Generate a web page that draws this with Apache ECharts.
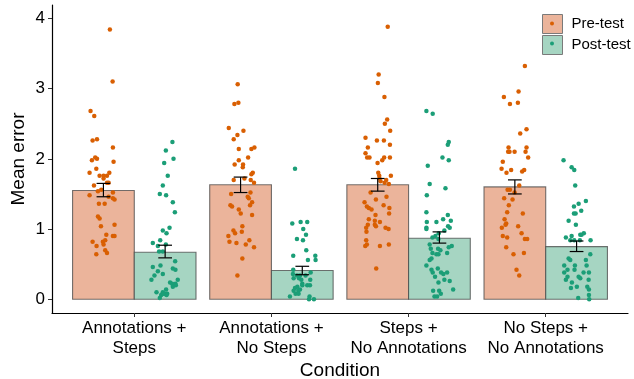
<!DOCTYPE html>
<html>
<head>
<meta charset="utf-8">
<script src="https://cdn.jsdelivr.net/npm/echarts@6/dist/echarts.min.js"></script>
<style>
  html, body { margin: 0; padding: 0; background: #fff; }
  #chart { width: 634px; height: 379px; }
</style>
</head>
<body>
<div id="chart"></div>
<script>
var categories = ['Annotations +\nSteps', 'Annotations +\nNo Steps', 'Steps +\nNo Annotations', 'No Steps +\nNo Annotations'];

// bar heights (means) and error bar ends
var preMean = [1.55, 1.63, 1.63, 1.60];
var preLow = [1.46, 1.52, 1.54, 1.50];
var preHigh = [1.65, 1.74, 1.72, 1.70];
var postMean = [0.67, 0.41, 0.87, 0.75];
var postLow = [0.59, 0.35, 0.80, 0.68];
var postHigh = [0.77, 0.47, 0.96, 0.83];

// jittered points: [x jitter, value]
var preG1 = [[0.047,3.84],[0.067,3.10],[-0.094,2.68],[-0.067,2.61],[-0.079,2.26],[-0.047,2.28],[0.069,2.16],[-0.060,2.02],[-0.047,2.00],[-0.084,1.98],[0.074,1.96],[-0.052,1.86],[-0.101,1.80],[0.043,1.80],[-0.028,1.76],[0.001,1.76],[0.026,1.76],[0.001,1.72],[-0.069,1.62],[0.026,1.66],[0.038,1.66],[-0.040,1.54],[-0.016,1.56],[0.069,1.52],[-0.101,1.48],[0.038,1.46],[0.069,1.44],[0.081,1.42],[-0.033,1.36],[0.009,1.36],[-0.040,1.18],[-0.028,1.15],[0.081,1.06],[-0.018,1.04],[0.021,0.92],[0.069,0.90],[0.081,0.90],[-0.079,0.82],[-0.004,0.82],[0.013,0.84],[0.001,0.78],[-0.050,0.76],[0.013,0.70],[0.026,0.66],[-0.052,0.64]];
var postG1 = [[0.053,2.24],[0.005,2.12],[0.061,2.00],[-0.007,1.94],[0.019,1.76],[-0.017,1.62],[-0.039,1.50],[0.007,1.48],[0.056,1.38],[0.071,1.24],[0.032,1.02],[-0.017,0.98],[0.010,0.94],[-0.090,0.80],[-0.036,0.84],[0.005,0.78],[-0.053,0.76],[-0.044,0.68],[-0.017,0.68],[0.073,0.54],[-0.034,0.48],[-0.090,0.46],[0.056,0.44],[0.075,0.42],[-0.053,0.40],[-0.017,0.36],[-0.078,0.34],[-0.100,0.28],[0.092,0.28],[0.036,0.24],[0.051,0.22],[0.075,0.22],[0.078,0.20],[0.056,0.18],[0.007,0.14],[-0.063,0.10],[-0.017,0.10],[0,0.08],[0.015,0.08],[-0.029,0.06],[0.010,0.06],[-0.012,0.08],[-0.039,0.02]];
var preG2 = [[-0.021,3.06],[-0.045,2.78],[-0.016,2.80],[-0.086,2.44],[0.021,2.40],[-0.023,2.34],[-0.050,2.28],[-0.013,2.14],[0.079,2.14],[0.101,2.16],[0.055,2.02],[-0.013,1.98],[-0.043,1.92],[0.018,1.92],[0.016,1.88],[0.089,1.80],[0.079,1.78],[-0.050,1.70],[0.028,1.72],[0.074,1.70],[0.098,1.66],[-0.069,1.50],[0.072,1.52],[0.052,1.46],[0.060,1.44],[0.084,1.38],[-0.074,1.34],[-0.062,1.32],[0.069,1.34],[-0.013,1.28],[0.001,1.22],[0.084,1.20],[0.013,1.04],[-0.052,0.98],[-0.040,0.94],[0.009,0.96],[-0.089,0.90],[-0.081,0.82],[0.064,0.84],[-0.030,0.80],[0.038,0.78],[0.098,0.74],[0.013,0.58],[-0.023,0.34]];
var postG2 = [[-0.053,1.86],[-0.073,1.08],[-0.012,1.10],[0.036,1.10],[0.007,1.00],[0.027,0.92],[-0.039,0.86],[0.005,0.84],[0.029,0.70],[-0.066,0.62],[0.095,0.62],[0.041,0.56],[0.097,0.56],[-0.066,0.42],[0.061,0.38],[-0.068,0.36],[-0.039,0.34],[-0.017,0.34],[0.024,0.34],[-0.063,0.30],[-0.024,0.30],[-0.007,0.28],[0.058,0.28],[0,0.22],[0.036,0.20],[0.056,0.20],[-0.036,0.18],[-0.053,0.16],[-0.017,0.14],[-0.063,0.12],[-0.029,0.12],[-0.049,0.08],[-0.090,0.04],[0.053,0.04],[0.049,0.00],[0.085,0.00],[0,0.20],[-0.027,0.08]];
var preG3 = [[0.073,3.88],[0.007,3.20],[0.001,3.08],[0.049,2.88],[0.069,2.56],[0.052,2.50],[0.091,2.40],[-0.089,2.30],[-0.006,2.26],[0.045,2.26],[0.089,2.20],[-0.072,2.16],[-0.089,2.08],[-0.077,2.02],[-0.060,2.02],[0.047,2.02],[0.089,2.02],[0.033,1.98],[-0.001,1.94],[0.004,1.80],[0.011,1.76],[0.096,1.76],[0.021,1.68],[0.062,1.70],[0.050,1.66],[0.081,1.64],[-0.052,1.52],[0.064,1.46],[-0.013,1.42],[-0.096,1.38],[0.043,1.34],[-0.079,1.32],[-0.065,1.30],[-0.045,1.28],[0.085,1.30],[0.083,1.22],[-0.016,1.20],[-0.065,1.14],[-0.021,1.12],[0.016,1.10],[-0.072,1.06],[-0.021,1.06],[-0.084,1.02],[0.057,1.02],[0.079,1.00],[-0.082,0.96],[-0.084,0.84],[-0.079,0.78],[-0.091,0.76],[0.016,0.76],[0.081,0.78],[-0.011,0.44],[0.013,1.72],[-0.013,1.04]];
var postG3 = [[-0.095,2.68],[-0.049,2.64],[0.068,2.24],[0.061,2.20],[0.022,2.02],[0.068,1.98],[-0.085,1.90],[-0.071,1.64],[0.044,1.58],[-0.092,1.48],[-0.095,1.24],[0.061,1.20],[-0.092,1.10],[-0.022,1.10],[0.027,1.14],[0.083,1.12],[-0.095,1.02],[-0.095,1.00],[0.063,1.04],[0.075,1.02],[0.036,0.98],[-0.005,0.94],[-0.051,0.88],[-0.007,0.86],[-0.029,0.90],[-0.071,0.78],[0.090,0.76],[0.068,0.74],[-0.063,0.72],[-0.010,0.72],[0.007,0.70],[-0.051,0.66],[-0.022,0.64],[0.056,0.66],[-0.007,0.64],[-0.058,0.58],[-0.071,0.56],[-0.095,0.48],[-0.012,0.44],[-0.058,0.42],[-0.049,0.38],[0.012,0.38],[0.029,0.36],[0.056,0.38],[-0.032,0.32],[0.036,0.28],[0.075,0.26],[-0.007,0.24],[0.100,0.14],[-0.046,0.12],[-0.002,0.12],[0.010,0.08],[-0.036,0.04],[-0.017,0.04]];
var preG4 = [[0.073,3.32],[0.027,2.96],[-0.080,2.88],[0.022,2.80],[-0.036,2.78],[0.085,2.42],[0.039,2.36],[-0.046,2.16],[0.085,2.16],[-0.049,2.10],[-0.039,2.10],[-0.002,2.10],[0.078,2.10],[0.097,2.02],[-0.088,1.96],[-0.097,1.86],[-0.027,1.84],[-0.061,1.80],[0.053,1.82],[0.068,1.84],[0.032,1.62],[-0.053,1.56],[-0.036,1.56],[-0.002,1.52],[-0.078,1.44],[-0.017,1.42],[-0.044,1.34],[-0.056,1.24],[0.058,1.22],[-0.075,1.14],[-0.063,1.08],[-0.068,1.06],[0.024,1.04],[-0.095,1.02],[0.049,0.94],[-0.088,0.90],[-0.056,0.88],[0.073,0.86],[0.090,0.86],[-0.063,0.74],[0.066,0.66],[-0.010,0.64],[0.012,0.42],[0.032,0.34]];
var postG4 = [[-0.095,1.98],[-0.036,1.88],[-0.017,1.84],[-0.010,1.62],[0.068,1.40],[0.015,1.36],[-0.019,1.32],[0.034,1.26],[-0.019,1.22],[-0.007,1.22],[-0.058,1.12],[-0.005,1.06],[0.036,0.92],[0.053,0.94],[0.027,0.92],[-0.078,0.88],[-0.036,0.90],[-0.046,0.84],[-0.017,0.84],[0.024,0.84],[0.102,0.84],[-0.058,0.58],[-0.046,0.56],[0.068,0.56],[0.100,0.64],[-0.090,0.48],[-0.012,0.48],[-0.066,0.42],[0.073,0.48],[-0.015,0.42],[-0.090,0.38],[0.051,0.38],[0.090,0.38],[0.015,0.32],[0.027,0.30],[-0.066,0.32],[-0.078,0.28],[0.088,0.28],[-0.034,0.24],[0.078,0.18],[0.002,0.18],[-0.041,0.16],[0.090,0.14],[0.090,0.06],[0.012,0.02],[0.092,0.00]];

var prePoints = [preG1, preG2, preG3, preG4];
var postPoints = [postG1, postG2, postG3, postG4];

var PRE_DOT = '#D95F02', POST_DOT = '#1B9E77';
var PRE_FILL = '#EBB49B', POST_FILL = '#A6D5C2';
var FONT = '"Liberation Sans", Arial, sans-serif';
var DODGE = 0.45;

var chart = echarts.init(document.getElementById('chart'));

function barData(means, side) {
  var res = [];
  for (var i = 0; i < means.length; i++) {
    var x0 = i + 1 + (side < 0 ? -DODGE : 0);
    res.push([x0, x0 + DODGE, means[i]]);
  }
  return res;
}

function errData(lows, highs, side) {
  var res = [];
  for (var i = 0; i < lows.length; i++) {
    res.push([i + 1 + side * DODGE / 2, lows[i], highs[i]]);
  }
  return res;
}

function pointData(groups, side) {
  var res = [];
  for (var i = 0; i < groups.length; i++) {
    for (var j = 0; j < groups[i].length; j++) {
      res.push([i + 1 + side * DODGE / 2 + groups[i][j][0], groups[i][j][1]]);
    }
  }
  return res;
}

function barRenderer(fill) {
  return function (params, api) {
    var lo = api.coord([api.value(0), 0]);
    var hi = api.coord([api.value(1), api.value(2)]);
    return {
      type: 'rect',
      shape: { x: lo[0], y: hi[1], width: hi[0] - lo[0], height: lo[1] - hi[1] },
      style: { fill: fill, stroke: 'rgba(70,70,70,0.75)', lineWidth: 1.1 }
    };
  };
}

function renderErr(params, api) {
  var x = api.value(0);
  var a = api.coord([x, api.value(1)]);
  var b = api.coord([x, api.value(2)]);
  var half = api.size([0.1, 0])[0] / 2;
  var st = { stroke: '#000', lineWidth: 1.2 };
  return {
    type: 'group',
    children: [
      { type: 'line', shape: { x1: a[0], y1: a[1], x2: b[0], y2: b[1] }, style: st },
      { type: 'line', shape: { x1: a[0] - half, y1: a[1], x2: a[0] + half, y2: a[1] }, style: st },
      { type: 'line', shape: { x1: b[0] - half, y1: b[1], x2: b[0] + half, y2: b[1] }, style: st }
    ]
  };
}

var option = {
  animation: false,
  backgroundColor: '#fff',
  grid: { left: 52, right: 6, top: 5, bottom: 66, containLabel: false, outerBoundsMode: 'none' },
  legend: [
    {
      orient: 'vertical', left: 542, top: 14, padding: 0,
      icon: 'rect', itemWidth: 20, itemHeight: 19, itemGap: 1,
      selectedMode: false,
      textStyle: { fontSize: 15, color: '#000', fontFamily: FONT, padding: [0, 0, 0, 4] },
      data: [
        { name: 'Pre-test', itemStyle: { color: PRE_FILL, borderColor: '#7a7a7a', borderWidth: 1 } },
        { name: 'Post-test', itemStyle: { color: POST_FILL, borderColor: '#7a7a7a', borderWidth: 1 } }
      ]
    },
    {
      orient: 'vertical', left: 550, top: 21.5, padding: 0,
      icon: 'circle', itemWidth: 4, itemHeight: 4, itemGap: 16,
      selectedMode: false,
      formatter: function () { return ''; },
      textStyle: { fontSize: 1, lineHeight: 1 },
      data: [
        { name: 'Pre-test', itemStyle: { color: PRE_DOT, borderWidth: 0 } },
        { name: 'Post-test', itemStyle: { color: POST_DOT, borderWidth: 0 } }
      ]
    }
  ],
  xAxis: {
    type: 'value', min: 0.4, max: 4.6,
    splitLine: { show: false },
    axisLine: { show: true, onZero: false, lineStyle: { color: '#000', width: 1.2 } },
    axisTick: { show: true, customValues: [1, 2, 3, 4], length: 4, lineStyle: { color: '#333' } },
    axisLabel: {
      customValues: [1, 2, 3, 4],
      formatter: function (v) { return categories[Math.round(v) - 1]; },
      fontSize: 17, lineHeight: 20, color: '#000', fontFamily: FONT, margin: 5
    },
    name: 'Condition', nameLocation: 'middle', nameGap: 48, nameMoveOverlap: false,
    nameTextStyle: { fontSize: 19, color: '#000', fontFamily: FONT }
  },
  yAxis: {
    type: 'value', min: -0.195, max: 4.19,
    splitLine: { show: false },
    axisLine: { show: true, onZero: false, lineStyle: { color: '#000', width: 1.2 } },
    axisTick: { show: true, customValues: [0, 1, 2, 3, 4], length: 4, lineStyle: { color: '#333' } },
    axisLabel: { customValues: [0, 1, 2, 3, 4], fontSize: 17, color: '#000', fontFamily: FONT, margin: 7 },
    name: 'Mean error', nameLocation: 'middle', nameGap: 24, nameMoveOverlap: false,
    nameTextStyle: { fontSize: 19, color: '#000', fontFamily: FONT }
  },
  series: [
    { name: 'Pre-test', type: 'custom', renderItem: barRenderer(PRE_FILL), data: barData(preMean, -1), itemStyle: { color: PRE_FILL }, z: 1 },
    { name: 'Post-test', type: 'custom', renderItem: barRenderer(POST_FILL), data: barData(postMean, 1), itemStyle: { color: POST_FILL }, z: 1 },
    { name: 'Pre-test', type: 'scatter', symbolSize: 4.5, data: pointData(prePoints, -1), itemStyle: { color: PRE_DOT, opacity: 1 }, z: 2 },
    { name: 'Post-test', type: 'scatter', symbolSize: 4.5, data: pointData(postPoints, 1), itemStyle: { color: POST_DOT, opacity: 1 }, z: 2 },
    { name: 'Pre-test', type: 'custom', renderItem: renderErr, data: errData(preLow, preHigh, -1), z: 3 },
    { name: 'Post-test', type: 'custom', renderItem: renderErr, data: errData(postLow, postHigh, 1), z: 3 }
  ]
};

chart.setOption(option);
</script>
</body>
</html>
